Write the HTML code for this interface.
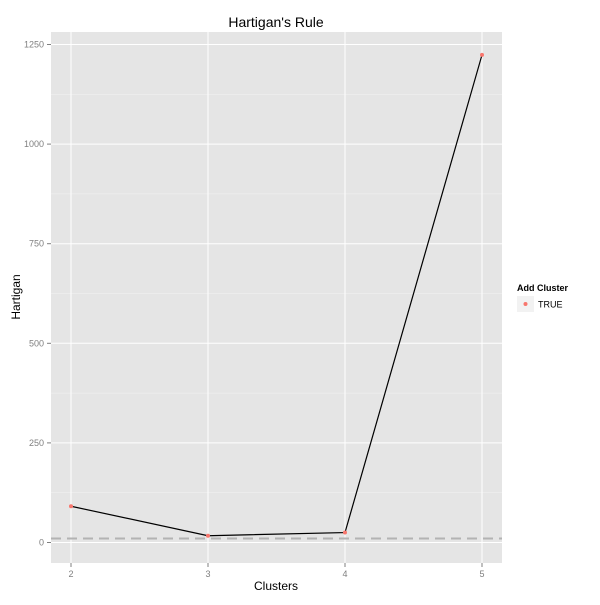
<!DOCTYPE html>
<html><head><meta charset="utf-8"><style>body{margin:0;background:#fff}svg{font-family:"Liberation Sans",sans-serif}</style></head>
<body>
<svg id="chart" width="600" height="600" viewBox="0 0 600 600">
<rect x="51" y="32" width="451" height="531" fill="#e5e5e5"/>
<g id="grid"></g>
<g id="marks"></g>
<g id="axes"></g>
<text x="276" y="27" text-anchor="middle" font-size="14">Hartigan's Rule</text>
<text x="276" y="590" text-anchor="middle" font-size="12">Clusters</text>
<text transform="translate(20,297) rotate(-90)" text-anchor="middle" font-size="12">Hartigan</text>
<g>
<text x="517" y="291" font-size="9" font-weight="bold">Add Cluster</text>
<rect x="517" y="296" width="17" height="16" fill="#f2f2f2"/>
<circle cx="525.5" cy="304" r="2" fill="#f8766d"/>
<text x="538" y="307.5" font-size="9">TRUE</text>
</g>
</svg>
<script>
const categories=[2,3,4,5];
const values=[91,17,25,1224];
const yTicks=[0,250,500,750,1000,1250];
const threshold=[10];
const NS="http://www.w3.org/2000/svg";
const xs=v=>71+(v-2)*137;
const ys=v=>542.5-v*0.3984;
function mk(parent,tag,attrs){const e=document.createElementNS(NS,tag);for(const k in attrs)e.setAttribute(k,attrs[k]);document.getElementById(parent).appendChild(e);return e;}
// minor grid
for(let i=0;i<yTicks.length-1;i++){const m=(yTicks[i]+yTicks[i+1])/2;
const l=mk('grid','line',{x1:51,x2:502,y1:ys(m),y2:ys(m),stroke:'#f2f2f2','stroke-width':0.5});

}
yTicks.forEach(t=>{const l=mk('grid','line',{x1:51,x2:502,y1:ys(t),y2:ys(t),stroke:'#fff','stroke-width':1});


const tk=mk('axes','line',{x1:47,x2:51,y1:ys(t),y2:ys(t),stroke:'#7f7f7f'});


const tx=mk('axes','text',{x:44,y:ys(t)+3,'text-anchor':'end','font-size':9,fill:'#7f7f7f'});tx.textContent=t;

});
categories.forEach(c=>{const l=mk('grid','line',{x1:xs(c),x2:xs(c),y1:32,y2:563,stroke:'#fff','stroke-width':1});


const tk=mk('axes','line',{x1:xs(c),x2:xs(c),y1:563,y2:567,stroke:'#7f7f7f'});


const tx=mk('axes','text',{x:xs(c),y:577,'text-anchor':'middle','font-size':9,fill:'#7f7f7f'});tx.textContent=c;

});
const h=mk('marks','line',{x1:51,x2:502,y1:ys(threshold[0]),y2:ys(threshold[0]),stroke:'#b3b3b3','stroke-width':2,'stroke-dasharray':'10,6'});


const p=mk('marks','polyline',{points:categories.map((c,i)=>xs(c)+','+ys(values[i])).join(' '),fill:'none',stroke:'#000','stroke-width':1.2});


categories.forEach((c,i)=>{const d=mk('marks','circle',{cx:xs(c),cy:ys(values[i]),r:2,fill:'#f8766d'});

});
</script>
</body></html>
